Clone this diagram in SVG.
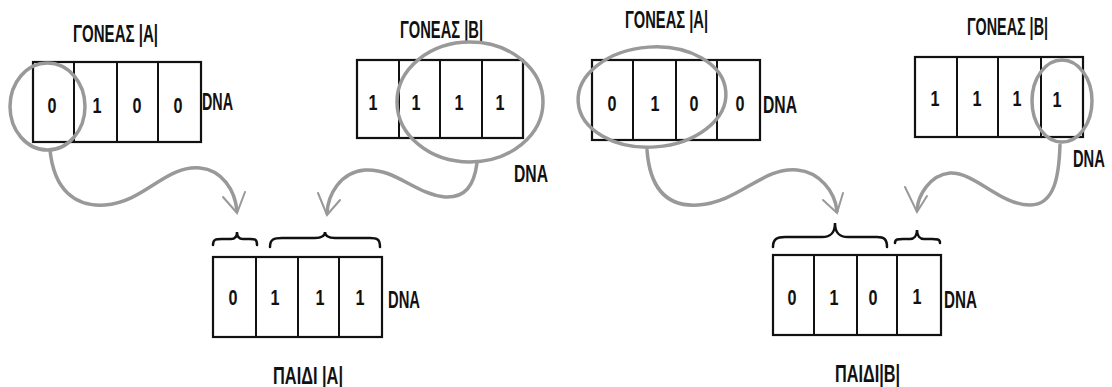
<svg xmlns="http://www.w3.org/2000/svg" width="1112" height="387" viewBox="0 0 1112 387">
  <style>
    .box { fill: #fff; stroke: #111; stroke-width: 2.2; }
    .div { stroke: #111; stroke-width: 2; }
    .t { font-family: "Liberation Sans", Arial, sans-serif; font-weight: bold; fill: #111; }
    .title { font-size: 23px; }
    .dig { font-size: 22px; text-anchor: middle; }
    .dna { font-size: 23px; }
    .sel { fill: none; stroke: #999; stroke-width: 3.5; }
    .flow { fill: none; stroke: #999; stroke-width: 3.5; stroke-linecap: round; }
    .head { fill: none; stroke: #999; stroke-width: 2; stroke-linecap: round; }
    .brace { fill: none; stroke: #111; stroke-width: 2.5; stroke-linecap: round; }
  </style>

  <!-- Parent A (left example) -->
  <g id="parentA1">
    <text class="t title" x="73" y="42" textLength="85" lengthAdjust="spacingAndGlyphs">ΓΟΝΕΑΣ |Α|</text>
    <rect class="box" x="33" y="62" width="168" height="80"/>
    <line class="div" x1="74" y1="62" x2="74" y2="142"/>
    <line class="div" x1="117" y1="62" x2="117" y2="142"/>
    <line class="div" x1="158" y1="62" x2="158" y2="142"/>
    <text class="t dig" x="52" y="113" textLength="9" lengthAdjust="spacingAndGlyphs">0</text>
    <text class="t dig" x="97" y="113" textLength="9" lengthAdjust="spacingAndGlyphs">1</text>
    <text class="t dig" x="137" y="113" textLength="9" lengthAdjust="spacingAndGlyphs">0</text>
    <text class="t dig" x="178" y="113" textLength="9" lengthAdjust="spacingAndGlyphs">0</text>
    <text class="t dna" x="202" y="110" textLength="31" lengthAdjust="spacingAndGlyphs">DNA</text>
    <ellipse class="sel" cx="47.5" cy="106.5" rx="37.5" ry="43.5"/>
  </g>

  <!-- Parent B (left example) -->
  <g id="parentB1">
    <text class="t title" x="400" y="38" textLength="83" lengthAdjust="spacingAndGlyphs">ΓΟΝΕΑΣ |Β|</text>
    <rect class="box" x="357" y="60" width="166" height="78"/>
    <line class="div" x1="399" y1="60" x2="399" y2="138"/>
    <line class="div" x1="440" y1="60" x2="440" y2="138"/>
    <line class="div" x1="482" y1="60" x2="482" y2="138"/>
    <text class="t dig" x="373" y="110" textLength="9" lengthAdjust="spacingAndGlyphs">1</text>
    <text class="t dig" x="416" y="110" textLength="9" lengthAdjust="spacingAndGlyphs">1</text>
    <text class="t dig" x="459" y="110" textLength="9" lengthAdjust="spacingAndGlyphs">1</text>
    <text class="t dig" x="500" y="110" textLength="9" lengthAdjust="spacingAndGlyphs">1</text>
    <text class="t dna" x="514" y="182" textLength="34" lengthAdjust="spacingAndGlyphs">DNA</text>
    <ellipse class="sel" cx="470" cy="102" rx="73" ry="60"/>
  </g>

  <!-- Child A -->
  <g id="childA">
    <rect class="box" x="213" y="257" width="169" height="80"/>
    <line class="div" x1="256" y1="257" x2="256" y2="337"/>
    <line class="div" x1="298" y1="257" x2="298" y2="337"/>
    <line class="div" x1="339" y1="257" x2="339" y2="337"/>
    <text class="t dig" x="233" y="305" textLength="9" lengthAdjust="spacingAndGlyphs">0</text>
    <text class="t dig" x="275" y="305" textLength="9" lengthAdjust="spacingAndGlyphs">1</text>
    <text class="t dig" x="320" y="305" textLength="9" lengthAdjust="spacingAndGlyphs">1</text>
    <text class="t dig" x="360" y="305" textLength="9" lengthAdjust="spacingAndGlyphs">1</text>
    <text class="t dna" x="388" y="308" textLength="32" lengthAdjust="spacingAndGlyphs">DNA</text>
    <text class="t title" x="273" y="384" textLength="70" lengthAdjust="spacingAndGlyphs">ΠΑΙΔΙ |Α|</text>
    <path class="brace" d="M213,245 C213,239 216,239 222,239 L231,239 C235,239 237,237 237,232 C237,237 239,239 243,239 L250,239 C255,239 257,239 257,245"/>
    <path class="brace" d="M270,247 C270,239 274,238 282,238 L315,238 C321,238 325,237 325,232 C325,237 329,238 335,238 L370,238 C377,238 380,239 380,247"/>
  </g>

  <!-- Parent A (right example) -->
  <g id="parentA2">
    <text class="t title" x="625" y="28" textLength="83" lengthAdjust="spacingAndGlyphs">ΓΟΝΕΑΣ |Α|</text>
    <rect class="box" x="592" y="60" width="168" height="80"/>
    <line class="div" x1="633" y1="60" x2="633" y2="140"/>
    <line class="div" x1="676" y1="60" x2="676" y2="140"/>
    <line class="div" x1="717" y1="60" x2="717" y2="140"/>
    <text class="t dig" x="612" y="111" textLength="9" lengthAdjust="spacingAndGlyphs">0</text>
    <text class="t dig" x="655" y="111" textLength="9" lengthAdjust="spacingAndGlyphs">1</text>
    <text class="t dig" x="694" y="111" textLength="9" lengthAdjust="spacingAndGlyphs">0</text>
    <text class="t dig" x="740" y="111" textLength="9" lengthAdjust="spacingAndGlyphs">0</text>
    <text class="t dna" x="763" y="113" textLength="34" lengthAdjust="spacingAndGlyphs">DNA</text>
    <ellipse class="sel" cx="652" cy="97" rx="74" ry="50" transform="rotate(-4 652 97)"/>
  </g>

  <!-- Parent B (right example) -->
  <g id="parentB2">
    <text class="t title" x="967" y="35" textLength="81" lengthAdjust="spacingAndGlyphs">ΓΟΝΕΑΣ |Β|</text>
    <rect class="box" x="915" y="57" width="168" height="80"/>
    <line class="div" x1="957" y1="57" x2="957" y2="137"/>
    <line class="div" x1="998" y1="57" x2="998" y2="137"/>
    <line class="div" x1="1041" y1="57" x2="1041" y2="137"/>
    <text class="t dig" x="935" y="106" textLength="9" lengthAdjust="spacingAndGlyphs">1</text>
    <text class="t dig" x="977" y="106" textLength="9" lengthAdjust="spacingAndGlyphs">1</text>
    <text class="t dig" x="1017" y="106" textLength="9" lengthAdjust="spacingAndGlyphs">1</text>
    <text class="t dig" x="1057" y="107" textLength="9" lengthAdjust="spacingAndGlyphs">1</text>
    <!-- condensed by scaling so the label stays inside the right edge -->
    <text class="t dna" transform="translate(1073 167) scale(0.64 1)">DNA</text>
    <ellipse class="sel" cx="1062" cy="101" rx="30" ry="41"/>
  </g>

  <!-- Child B -->
  <g id="childB">
    <rect class="box" x="773" y="255" width="168" height="80"/>
    <line class="div" x1="814" y1="255" x2="814" y2="335"/>
    <line class="div" x1="857" y1="255" x2="857" y2="335"/>
    <line class="div" x1="897" y1="255" x2="897" y2="335"/>
    <text class="t dig" x="792" y="305" textLength="9" lengthAdjust="spacingAndGlyphs">0</text>
    <text class="t dig" x="834" y="305" textLength="9" lengthAdjust="spacingAndGlyphs">1</text>
    <text class="t dig" x="873" y="305" textLength="9" lengthAdjust="spacingAndGlyphs">0</text>
    <text class="t dig" x="917" y="304" textLength="9" lengthAdjust="spacingAndGlyphs">1</text>
    <text class="t dna" x="944" y="308" textLength="33" lengthAdjust="spacingAndGlyphs">DNA</text>
    <text class="t title" x="835" y="382" textLength="65" lengthAdjust="spacingAndGlyphs">ΠΑΙΔΙ|Β|</text>
    <path class="brace" d="M773,247 C773,239 777,237 785,237 L822,237 C830,237 835,234 835,223 C835,234 840,237 848,237 L877,237 C884,237 887,239 887,247"/>
    <path class="brace" d="M895,243 C895,239 898,239 903,239 L910,239 C914,239 917,236 917,230 C917,236 920,239 924,239 L932,239 C937,239 940,239 940,243"/>
  </g>

  <!-- Inheritance arrows -->
  <g id="connectors">
    <path class="flow" d="M50,150 C54,190 75,207 105,205 C145,202 165,165 200,168 C222,170 235,190 237,211"/>
    <path class="head" d="M223,197 L237,213 L245,192"/>

    <path class="flow" d="M477,163 C474,186 465,198 445,197 C415,194 395,168 365,170 C340,172 328,195 327,213"/>
    <path class="head" d="M318,193 L327,215 L340,200"/>

    <path class="flow" d="M647,150 C650,190 668,207 698,205 C740,202 762,167 797,170 C820,172 835,192 837,211"/>
    <path class="head" d="M823,200 L837,213 L843,193"/>

    <path class="flow" d="M1060,145 C1059,175 1055,205 1030,205 C1000,205 975,172 950,173 C930,175 918,195 917,210"/>
    <path class="head" d="M905,187 L917,212 L927,196"/>
  </g>
</svg>
